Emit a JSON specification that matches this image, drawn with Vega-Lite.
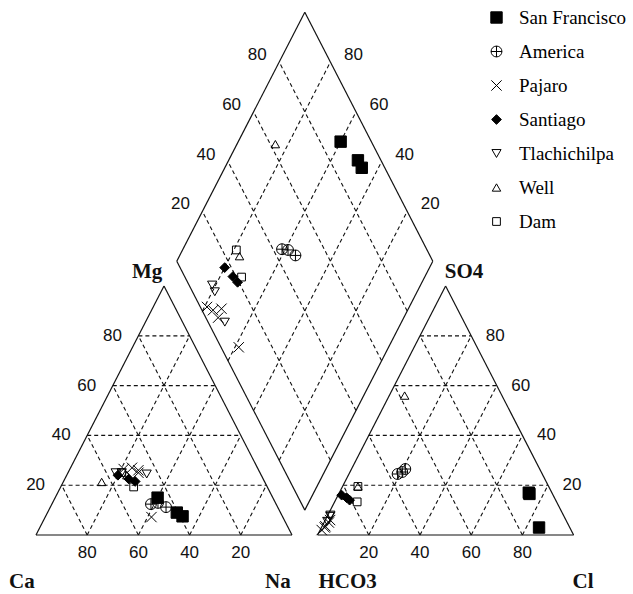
{
  "$schema": "https://vega.github.io/schema/vega-lite/v6.json",
  "width": 633,
  "height": 594,
  "autosize": {"type": "fit", "contains": "padding"},
  "padding": 0,
  "background": "white",
  "config": {"view": {"stroke": null}},
  "datasets": {
    "samples": [
      {"site": "San Francisco", "Ca": 45, "Mg": 15, "Na": 40, "HCO3": 12, "SO4": 3, "Cl": 85},
      {"site": "San Francisco", "Ca": 40.5, "Mg": 9, "Na": 50.5, "HCO3": 9, "SO4": 17, "Cl": 74},
      {"site": "San Francisco", "Ca": 39, "Mg": 7.5, "Na": 53.5, "HCO3": 9, "SO4": 16.5, "Cl": 74.5},
      {"site": "America", "Ca": 48.9, "Mg": 12.4, "Na": 38.7, "HCO3": 56.5, "SO4": 24.5, "Cl": 19},
      {"site": "America", "Ca": 45.9, "Mg": 12.9, "Na": 41.2, "HCO3": 54.3, "SO4": 25.3, "Cl": 20.4},
      {"site": "America", "Ca": 43.6, "Mg": 11.2, "Na": 45.2, "HCO3": 52.5, "SO4": 26.5, "Cl": 21},
      {"site": "Pajaro", "Ca": 52.5, "Mg": 26.5, "Na": 21, "HCO3": 97.4, "SO4": 2, "Cl": 0.6},
      {"site": "Pajaro", "Ca": 49, "Mg": 27, "Na": 24, "HCO3": 95.7, "SO4": 3, "Cl": 1.3},
      {"site": "Pajaro", "Ca": 47, "Mg": 26, "Na": 27, "HCO3": 92.1, "SO4": 6, "Cl": 1.9},
      {"site": "Pajaro", "Ca": 47.5, "Mg": 25, "Na": 27.5, "HCO3": 95.2, "SO4": 3.5, "Cl": 1.3},
      {"site": "Pajaro", "Ca": 51.3, "Mg": 7.2, "Na": 41.5, "HCO3": 93.1, "SO4": 5, "Cl": 1.9},
      {"site": "Santiago", "Ca": 56, "Mg": 24, "Na": 20, "HCO3": 82.6, "SO4": 16, "Cl": 1.4},
      {"site": "Santiago", "Ca": 52.5, "Mg": 22.5, "Na": 25, "HCO3": 81.2, "SO4": 15, "Cl": 3.8},
      {"site": "Santiago", "Ca": 50.5, "Mg": 21.5, "Na": 28, "HCO3": 80.5, "SO4": 14, "Cl": 5.5},
      {"site": "Tlachichilpa", "Ca": 56.4, "Mg": 25, "Na": 18.6, "HCO3": 91, "SO4": 8, "Cl": 1},
      {"site": "Tlachichilpa", "Ca": 54, "Mg": 25, "Na": 21, "HCO3": 91.3, "SO4": 7.5, "Cl": 1.2},
      {"site": "Tlachichilpa", "Ca": 44.5, "Mg": 24.5, "Na": 31, "HCO3": 93.5, "SO4": 5.5, "Cl": 1},
      {"site": "Well", "Ca": 63.7, "Mg": 21.3, "Na": 15, "HCO3": 38, "SO4": 56, "Cl": 6},
      {"site": "Well", "Ca": 52.5, "Mg": 24, "Na": 23.5, "HCO3": 74.5, "SO4": 19.5, "Cl": 6},
      {"site": "Dam", "Ca": 54, "Mg": 25, "Na": 21, "HCO3": 74.5, "SO4": 19.5, "Cl": 6},
      {"site": "Dam", "Ca": 52.2, "Mg": 19.3, "Na": 28.5, "HCO3": 77.9, "SO4": 13.3, "Cl": 8.8}
    ],
    "frame": [
      {"x": 0, "y": 0, "x2": 1, "y2": 0},
      {"x": 0, "y": 0, "x2": 0.5, "y2": 1},
      {"x": 1, "y": 0, "x2": 0.5, "y2": 1},
      {"x": 1.1, "y": 0, "x2": 2.1, "y2": 0},
      {"x": 1.1, "y": 0, "x2": 1.6, "y2": 1},
      {"x": 2.1, "y": 0, "x2": 1.6, "y2": 1},
      {"x": 1.05, "y": 0.1, "x2": 0.55, "y2": 1.1},
      {"x": 0.55, "y": 1.1, "x2": 1.05, "y2": 2.1},
      {"x": 1.05, "y": 2.1, "x2": 1.55, "y2": 1.1},
      {"x": 1.55, "y": 1.1, "x2": 1.05, "y2": 0.1}
    ],
    "grid": [
      {"x": 0.1, "y": 0.2, "x2": 0.9, "y2": 0.2},
      {"x": 0.2, "y": 0.4, "x2": 0.8, "y2": 0.4},
      {"x": 0.3, "y": 0.6, "x2": 0.7, "y2": 0.6},
      {"x": 0.4, "y": 0.8, "x2": 0.6, "y2": 0.8},
      {"x": 0.2, "y": 0, "x2": 0.6, "y2": 0.8},
      {"x": 0.4, "y": 0, "x2": 0.7, "y2": 0.6},
      {"x": 0.6, "y": 0, "x2": 0.8, "y2": 0.4},
      {"x": 0.8, "y": 0, "x2": 0.9, "y2": 0.2},
      {"x": 0.2, "y": 0, "x2": 0.1, "y2": 0.2},
      {"x": 0.4, "y": 0, "x2": 0.2, "y2": 0.4},
      {"x": 0.6, "y": 0, "x2": 0.3, "y2": 0.6},
      {"x": 0.8, "y": 0, "x2": 0.4, "y2": 0.8},
      {"x": 1.2, "y": 0.2, "x2": 2.0, "y2": 0.2},
      {"x": 1.3, "y": 0.4, "x2": 1.9, "y2": 0.4},
      {"x": 1.4, "y": 0.6, "x2": 1.8, "y2": 0.6},
      {"x": 1.5, "y": 0.8, "x2": 1.7, "y2": 0.8},
      {"x": 1.3, "y": 0, "x2": 1.7, "y2": 0.8},
      {"x": 1.5, "y": 0, "x2": 1.8, "y2": 0.6},
      {"x": 1.7, "y": 0, "x2": 1.9, "y2": 0.4},
      {"x": 1.9, "y": 0, "x2": 2.0, "y2": 0.2},
      {"x": 1.3, "y": 0, "x2": 1.2, "y2": 0.2},
      {"x": 1.5, "y": 0, "x2": 1.3, "y2": 0.4},
      {"x": 1.7, "y": 0, "x2": 1.4, "y2": 0.6},
      {"x": 1.9, "y": 0, "x2": 1.5, "y2": 0.8},
      {"x": 0.65, "y": 0.9, "x2": 1.15, "y2": 1.9},
      {"x": 0.75, "y": 0.7, "x2": 1.25, "y2": 1.7},
      {"x": 0.85, "y": 0.5, "x2": 1.35, "y2": 1.5},
      {"x": 0.95, "y": 0.3, "x2": 1.45, "y2": 1.3},
      {"x": 1.45, "y": 0.9, "x2": 0.95, "y2": 1.9},
      {"x": 1.35, "y": 0.7, "x2": 0.85, "y2": 1.7},
      {"x": 1.25, "y": 0.5, "x2": 0.75, "y2": 1.5},
      {"x": 1.15, "y": 0.3, "x2": 0.65, "y2": 1.3}
    ],
    "ticks": [
      {"g": "L", "x": 0.4, "y": 0.8, "t": "80"},
      {"g": "L", "x": 0.3, "y": 0.6, "t": "60"},
      {"g": "L", "x": 0.2, "y": 0.4, "t": "40"},
      {"g": "L", "x": 0.1, "y": 0.2, "t": "20"},
      {"g": "B", "x": 0.2, "y": 0, "t": "80"},
      {"g": "B", "x": 0.4, "y": 0, "t": "60"},
      {"g": "B", "x": 0.6, "y": 0, "t": "40"},
      {"g": "B", "x": 0.8, "y": 0, "t": "20"},
      {"g": "B", "x": 1.3, "y": 0, "t": "20"},
      {"g": "B", "x": 1.5, "y": 0, "t": "40"},
      {"g": "B", "x": 1.7, "y": 0, "t": "60"},
      {"g": "B", "x": 1.9, "y": 0, "t": "80"},
      {"g": "R", "x": 1.7, "y": 0.8, "t": "80"},
      {"g": "R", "x": 1.8, "y": 0.6, "t": "60"},
      {"g": "R", "x": 1.9, "y": 0.4, "t": "40"},
      {"g": "R", "x": 2.0, "y": 0.2, "t": "20"},
      {"g": "DL", "x": 0.95, "y": 1.9, "t": "80"},
      {"g": "DL", "x": 0.85, "y": 1.7, "t": "60"},
      {"g": "DL", "x": 0.75, "y": 1.5, "t": "40"},
      {"g": "DL", "x": 0.65, "y": 1.3, "t": "20"},
      {"g": "DR", "x": 1.15, "y": 1.9, "t": "80"},
      {"g": "DR", "x": 1.25, "y": 1.7, "t": "60"},
      {"g": "DR", "x": 1.35, "y": 1.5, "t": "40"},
      {"g": "DR", "x": 1.45, "y": 1.3, "t": "20"}
    ],
    "titles": [
      {"x": 0.434, "y": 1.056, "t": "Mg"},
      {"x": 1.672, "y": 1.056, "t": "SO4"},
      {"x": -0.055, "y": -0.189, "t": "Ca"},
      {"x": 0.945, "y": -0.189, "t": "Na"},
      {"x": 1.217, "y": -0.189, "t": "HCO3"},
      {"x": 2.137, "y": -0.189, "t": "Cl"}
    ]
  },
  "layer": [
    {
      "data": {"name": "grid"},
      "mark": {"type": "rule", "stroke": "#111", "strokeWidth": 1.1, "strokeDash": [4, 3]},
      "encoding": {
        "x": {"field": "x", "type": "quantitative", "scale": {"domain": [-0.1406, 2.332], "nice": false, "zero": false}, "axis": null},
        "y": {"field": "y", "type": "quantitative", "scale": {"domain": [-0.237, 2.149], "nice": false, "zero": false}, "axis": null},
        "x2": {"field": "x2"},
        "y2": {"field": "y2"}
      }
    },
    {
      "data": {"name": "frame"},
      "mark": {"type": "rule", "stroke": "#111", "strokeWidth": 1.2},
      "encoding": {
        "x": {"field": "x", "type": "quantitative", "axis": null},
        "y": {"field": "y", "type": "quantitative", "axis": null},
        "x2": {"field": "x2"},
        "y2": {"field": "y2"}
      }
    },
    {
      "data": {"name": "ticks"},
      "transform": [{"filter": "datum.g === 'L'"}],
      "mark": {"type": "text", "font": "Liberation Sans", "fontSize": 17, "color": "#111", "dx": -26, "align": "center", "baseline": "middle"},
      "encoding": {
        "x": {"field": "x", "type": "quantitative", "axis": null},
        "y": {"field": "y", "type": "quantitative", "axis": null},
        "text": {"field": "t"}
      }
    },
    {
      "data": {"name": "ticks"},
      "transform": [{"filter": "datum.g === 'B'"}],
      "mark": {"type": "text", "font": "Liberation Sans", "fontSize": 17, "color": "#111", "dy": 18, "align": "center", "baseline": "middle"},
      "encoding": {
        "x": {"field": "x", "type": "quantitative", "axis": null},
        "y": {"field": "y", "type": "quantitative", "axis": null},
        "text": {"field": "t"}
      }
    },
    {
      "data": {"name": "ticks"},
      "transform": [{"filter": "datum.g === 'R'"}],
      "mark": {"type": "text", "font": "Liberation Sans", "fontSize": 17, "color": "#111", "dx": 24, "align": "center", "baseline": "middle"},
      "encoding": {
        "x": {"field": "x", "type": "quantitative", "axis": null},
        "y": {"field": "y", "type": "quantitative", "axis": null},
        "text": {"field": "t"}
      }
    },
    {
      "data": {"name": "ticks"},
      "transform": [{"filter": "datum.g === 'DL'"}],
      "mark": {"type": "text", "font": "Liberation Sans", "fontSize": 17, "color": "#111", "dx": -22, "dy": -7, "align": "center", "baseline": "middle"},
      "encoding": {
        "x": {"field": "x", "type": "quantitative", "axis": null},
        "y": {"field": "y", "type": "quantitative", "axis": null},
        "text": {"field": "t"}
      }
    },
    {
      "data": {"name": "ticks"},
      "transform": [{"filter": "datum.g === 'DR'"}],
      "mark": {"type": "text", "font": "Liberation Sans", "fontSize": 17, "color": "#111", "dx": 23, "dy": -7, "align": "center", "baseline": "middle"},
      "encoding": {
        "x": {"field": "x", "type": "quantitative", "axis": null},
        "y": {"field": "y", "type": "quantitative", "axis": null},
        "text": {"field": "t"}
      }
    },
    {
      "data": {"name": "titles"},
      "mark": {"type": "text", "font": "Liberation Serif", "fontWeight": "bold", "fontSize": 21, "color": "#111", "align": "center", "baseline": "middle"},
      "encoding": {
        "x": {"field": "x", "type": "quantitative", "axis": null},
        "y": {"field": "y", "type": "quantitative", "axis": null},
        "text": {"field": "t"}
      }
    },
    {
      "data": {"name": "samples"},
      "transform": [
        {"calculate": "(datum.Na + datum.Mg / 2) / 100", "as": "px"},
        {"calculate": "datum.Mg / 100", "as": "py"}
      ],
      "mark": {"type": "point", "filled": true, "stroke": "black", "strokeWidth": 1, "opacity": 1},
      "encoding": {
        "x": {"field": "px", "type": "quantitative", "axis": null},
        "y": {"field": "py", "type": "quantitative", "axis": null},
        "shape": {"field": "site", "type": "nominal",
          "scale": {"domain": ["San Francisco", "America", "Pajaro", "Santiago", "Tlachichilpa", "Well", "Dam"],
                    "range": ["square", "M-1,0A1,1,0,1,1,1,0A1,1,0,1,1,-1,0ZM-1,0L1,0M0,-1L0,1", "M-1,-1L1,1M-1,1L1,-1", "diamond", "triangle-down", "triangle-up", "square"]},
          "legend": {"orient": "none", "legendX": 487, "legendY": 8, "title": null, "labelFont": "Liberation Serif", "labelFontSize": 19, "labelColor": "black", "rowPadding": 14, "labelOffset": 13, "padding": 0, "symbolStrokeColor": "black", "symbolStrokeWidth": 1}},
        "fill": {"field": "site", "type": "nominal",
          "scale": {"domain": ["San Francisco", "America", "Pajaro", "Santiago", "Tlachichilpa", "Well", "Dam"],
                    "range": ["black", "transparent", "transparent", "black", "transparent", "transparent", "transparent"]}},
        "size": {"field": "site", "type": "nominal",
          "scale": {"domain": ["San Francisco", "America", "Pajaro", "Santiago", "Tlachichilpa", "Well", "Dam"],
                    "range": [130, 60, 90, 100, 80, 80, 100]}}
      }
    },
    {
      "data": {"name": "samples"},
      "transform": [
        {"calculate": "1.1 + (datum.Cl + datum.SO4 / 2) / 100", "as": "px"},
        {"calculate": "datum.SO4 / 100", "as": "py"}
      ],
      "mark": {"type": "point", "filled": true, "stroke": "black", "strokeWidth": 1, "opacity": 1},
      "encoding": {
        "x": {"field": "px", "type": "quantitative", "axis": null},
        "y": {"field": "py", "type": "quantitative", "axis": null},
        "shape": {"field": "site", "type": "nominal"},
        "fill": {"field": "site", "type": "nominal"},
        "size": {"field": "site", "type": "nominal"}
      }
    },
    {
      "data": {"name": "samples"},
      "transform": [
        {"calculate": "2.1 - (datum.HCO3 + datum.Na) / 100", "as": "py"},
        {"calculate": "datum.Na / 100 + datum.py / 2", "as": "px"}
      ],
      "mark": {"type": "point", "filled": true, "stroke": "black", "strokeWidth": 1, "opacity": 1},
      "encoding": {
        "x": {"field": "px", "type": "quantitative", "axis": null},
        "y": {"field": "py", "type": "quantitative", "axis": null},
        "shape": {"field": "site", "type": "nominal"},
        "fill": {"field": "site", "type": "nominal"},
        "size": {"field": "site", "type": "nominal"}
      }
    }
  ]
}
